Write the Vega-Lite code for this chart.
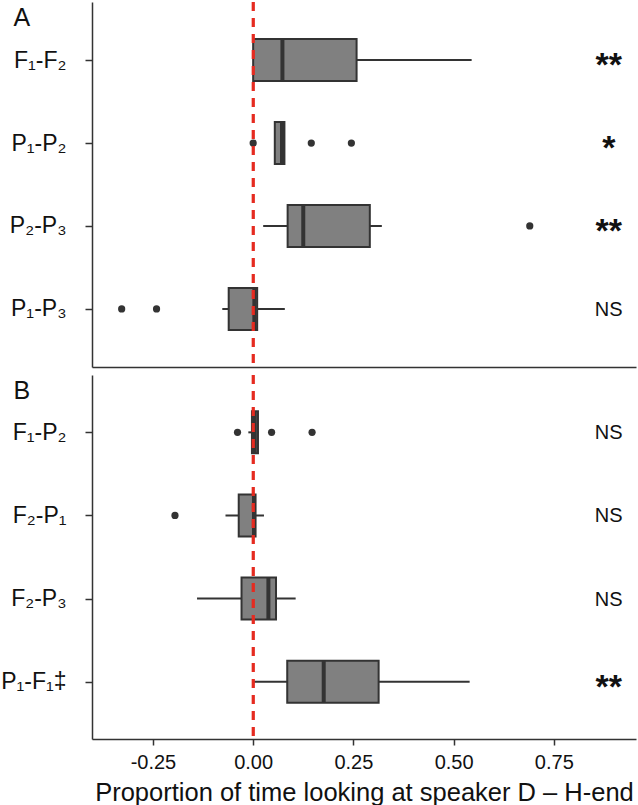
{
  "$schema": "https://vega.github.io/schema/vega-lite/v6.json",
  "background": "white",
  "padding": {"left": 0, "top": 0, "right": 2, "bottom": 0},
  "spacing": 4,
  "config": {
    "font": "Liberation Sans",
    "view": {"stroke": null},
    "axis": {
      "domainColor": "#333333", "domainWidth": 1.5,
      "tickColor": "#333333", "tickWidth": 1.5,
      "labelColor": "#111111", "titleColor": "#111111",
      "grid": false, "labelFont": "Liberation Sans", "titleFont": "Liberation Sans"
    }
  },
  "datasets": {
    "boxes": [
      {"panel": "A", "pair": "F₁-F₂", "lo": 0.0, "q1": 0.0, "med": 0.073, "q3": 0.258, "hi": 0.545, "sig": "**"},
      {"panel": "A", "pair": "P₁-P₂", "lo": 0.054, "q1": 0.054, "med": 0.072, "q3": 0.078, "hi": 0.078, "sig": "*"},
      {"panel": "A", "pair": "P₂-P₃", "lo": 0.025, "q1": 0.086, "med": 0.125, "q3": 0.291, "hi": 0.321, "sig": "**"},
      {"panel": "A", "pair": "P₁-P₃", "lo": -0.077, "q1": -0.061, "med": 0.003, "q3": 0.01, "hi": 0.079, "sig": "NS"},
      {"panel": "B", "pair": "F₁-P₂", "lo": -0.012, "q1": -0.003, "med": 0.004, "q3": 0.012, "hi": 0.014, "sig": "NS"},
      {"panel": "B", "pair": "F₂-P₁", "lo": -0.069, "q1": -0.036, "med": 0.002, "q3": 0.006, "hi": 0.027, "sig": "NS"},
      {"panel": "B", "pair": "F₂-P₃", "lo": -0.14, "q1": -0.029, "med": 0.038, "q3": 0.057, "hi": 0.106, "sig": "NS"},
      {"panel": "B", "pair": "P₁-F₁‡", "lo": 0.0, "q1": 0.085, "med": 0.176, "q3": 0.313, "hi": 0.54, "sig": "**"}
    ],
    "outliers": [
      {"panel": "A", "pair": "P₁-P₂", "value": 0.0},
      {"panel": "A", "pair": "P₁-P₂", "value": 0.145},
      {"panel": "A", "pair": "P₁-P₂", "value": 0.245},
      {"panel": "A", "pair": "P₂-P₃", "value": 0.69},
      {"panel": "A", "pair": "P₁-P₃", "value": -0.328},
      {"panel": "A", "pair": "P₁-P₃", "value": -0.241},
      {"panel": "B", "pair": "F₁-P₂", "value": -0.039},
      {"panel": "B", "pair": "F₁-P₂", "value": 0.046},
      {"panel": "B", "pair": "F₁-P₂", "value": 0.147},
      {"panel": "B", "pair": "F₂-P₁", "value": -0.195}
    ]
  },
  "vconcat": [
    {
      "width": 544,
      "height": 365,
      "encoding": {
        "y": {"field": "pair", "type": "nominal", "sort": ["F₁-F₂", "P₁-P₂", "P₂-P₃", "P₁-P₃"],
              "scale": {"type": "point", "padding": 0.7},
              "axis": {"title": "A", "titleAngle": 0, "titleX": -79, "titleY": 23, "titleAlign": "left", "titleBaseline": "alphabetic", "titleFontSize": 25, "titleFontWeight": "normal",
                       "labelFontSize": 23, "tickSize": 7, "labelPadding": 19, "minExtent": 86, "maxExtent": 86}}
      },
      "layer": [
        {
          "data": {"name": "boxes"},
          "transform": [{"filter": "datum.panel == 'A'"}],
          "mark": {"type": "rule", "color": "#333333", "strokeWidth": 2},
          "encoding": {
            "x": {"field": "lo", "type": "quantitative",
                  "scale": {"domain": [-0.402, 0.955], "nice": false, "zero": false},
                  "axis": {"labels": false, "ticks": false, "title": null, "domain": true}},
            "x2": {"field": "hi"}
          }
        },
        {
          "data": {"name": "boxes"},
          "transform": [{"filter": "datum.panel == 'A'"}],
          "mark": {"type": "bar", "size": 42, "fill": "#808080", "stroke": "#333333", "strokeWidth": 2},
          "encoding": {"x": {"field": "q1", "type": "quantitative"}, "x2": {"field": "q3"}}
        },
        {
          "data": {"name": "boxes"},
          "transform": [{"filter": "datum.panel == 'A'"}],
          "mark": {"type": "tick", "orient": "vertical", "size": 42, "thickness": 4, "color": "#333333", "opacity": 1},
          "encoding": {"x": {"field": "med", "type": "quantitative"}}
        },
        {
          "data": {"name": "outliers"},
          "transform": [{"filter": "datum.panel == 'A'"}],
          "mark": {"type": "circle", "size": 52, "color": "#333333", "opacity": 1},
          "encoding": {"x": {"field": "value", "type": "quantitative"}}
        },
        {
          "data": {"name": "boxes"},
          "transform": [{"filter": "datum.panel == 'A'"}],
          "mark": {"type": "rule", "color": "#e52b20", "strokeWidth": 2.5, "strokeDash": [9, 7]},
          "encoding": {"x": {"datum": 0}, "y": null}
        },
        {
          "data": {"name": "boxes"},
          "transform": [{"filter": "datum.panel == 'A' && datum.sig != 'NS'"}],
          "mark": {"type": "text", "fontSize": 34, "fontWeight": "bold", "align": "center", "baseline": "alphabetic", "dy": 16, "color": "#111111"},
          "encoding": {"x": {"datum": 0.887}, "text": {"field": "sig"}}
        },
        {
          "data": {"name": "boxes"},
          "transform": [{"filter": "datum.panel == 'A' && datum.sig == 'NS'"}],
          "mark": {"type": "text", "fontSize": 20, "align": "center", "baseline": "alphabetic", "dy": 7, "color": "#111111"},
          "encoding": {"x": {"datum": 0.887}, "text": {"field": "sig"}}
        }
      ]
    },
    {
      "width": 544,
      "height": 364,
      "encoding": {
        "y": {"field": "pair", "type": "nominal", "sort": ["F₁-P₂", "F₂-P₁", "F₂-P₃", "P₁-F₁‡"],
              "scale": {"type": "point", "padding": 0.69},
              "axis": {"title": "B", "titleAngle": 0, "titleX": -79, "titleY": 23, "titleAlign": "left", "titleBaseline": "alphabetic", "titleFontSize": 25, "titleFontWeight": "normal",
                       "labelFontSize": 23, "tickSize": 7, "labelPadding": 19, "minExtent": 86, "maxExtent": 86}}
      },
      "layer": [
        {
          "data": {"name": "boxes"},
          "transform": [{"filter": "datum.panel == 'B'"}],
          "mark": {"type": "rule", "color": "#333333", "strokeWidth": 2},
          "encoding": {
            "x": {"field": "lo", "type": "quantitative",
                  "scale": {"domain": [-0.402, 0.955], "nice": false, "zero": false},
                  "axis": {"values": [-0.25, 0, 0.25, 0.5, 0.75], "labelExpr": "replace(format(datum.value, '.2f'), '−', '-')",
                           "labelFontSize": 20, "tickSize": 6, "labelPadding": 7, "labelFlush": false,
                           "title": "Proportion of time looking at speaker D – H-end", "titleFontSize": 25.5, "titleFontWeight": "normal", "titlePadding": 8}},
            "x2": {"field": "hi"}
          }
        },
        {
          "data": {"name": "boxes"},
          "transform": [{"filter": "datum.panel == 'B'"}],
          "mark": {"type": "bar", "size": 42, "fill": "#808080", "stroke": "#333333", "strokeWidth": 2},
          "encoding": {"x": {"field": "q1", "type": "quantitative"}, "x2": {"field": "q3"}}
        },
        {
          "data": {"name": "boxes"},
          "transform": [{"filter": "datum.panel == 'B'"}],
          "mark": {"type": "tick", "orient": "vertical", "size": 42, "thickness": 4, "color": "#333333", "opacity": 1},
          "encoding": {"x": {"field": "med", "type": "quantitative"}}
        },
        {
          "data": {"name": "outliers"},
          "transform": [{"filter": "datum.panel == 'B'"}],
          "mark": {"type": "circle", "size": 52, "color": "#333333", "opacity": 1},
          "encoding": {"x": {"field": "value", "type": "quantitative"}}
        },
        {
          "data": {"name": "boxes"},
          "transform": [{"filter": "datum.panel == 'B'"}],
          "mark": {"type": "rule", "color": "#e52b20", "strokeWidth": 2.5, "strokeDash": [9, 7]},
          "encoding": {"x": {"datum": 0}, "y": null}
        },
        {
          "data": {"name": "boxes"},
          "transform": [{"filter": "datum.panel == 'B' && datum.sig != 'NS'"}],
          "mark": {"type": "text", "fontSize": 34, "fontWeight": "bold", "align": "center", "baseline": "alphabetic", "dy": 16, "color": "#111111"},
          "encoding": {"x": {"datum": 0.887}, "text": {"field": "sig"}}
        },
        {
          "data": {"name": "boxes"},
          "transform": [{"filter": "datum.panel == 'B' && datum.sig == 'NS'"}],
          "mark": {"type": "text", "fontSize": 20, "align": "center", "baseline": "alphabetic", "dy": 7, "color": "#111111"},
          "encoding": {"x": {"datum": 0.887}, "text": {"field": "sig"}}
        }
      ]
    }
  ]
}
